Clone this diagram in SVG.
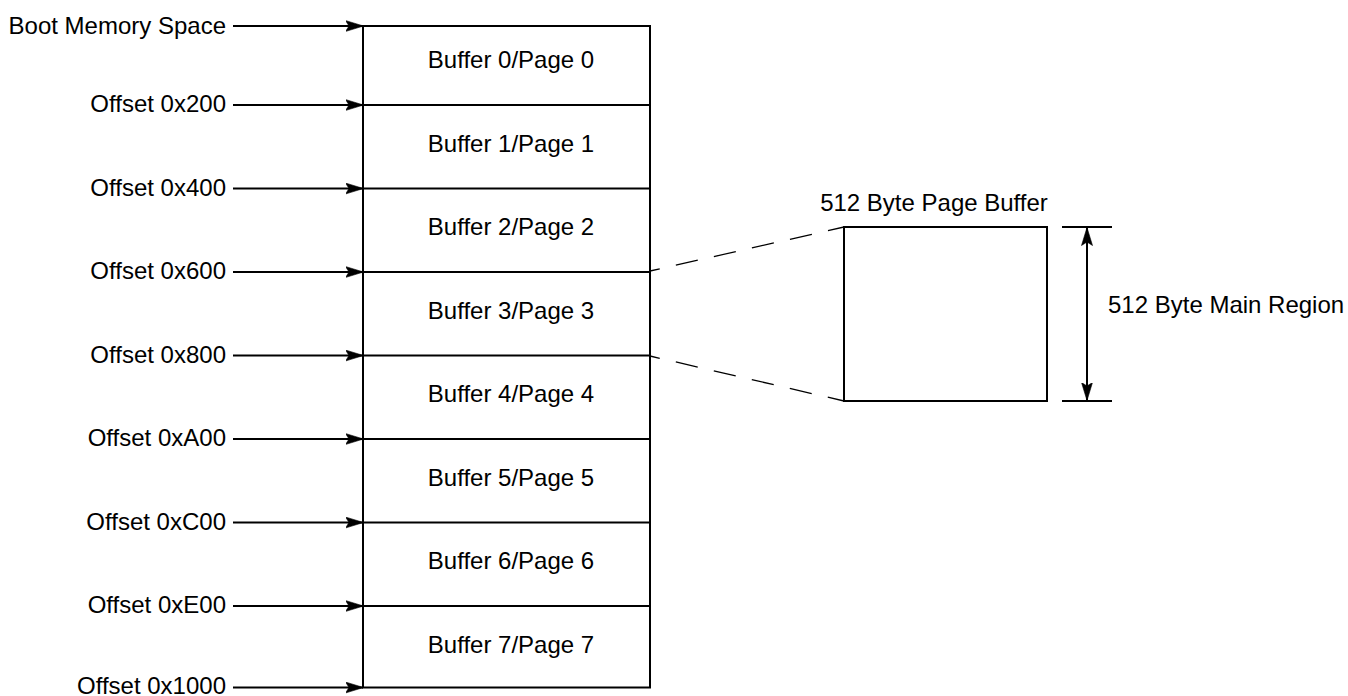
<svg xmlns="http://www.w3.org/2000/svg" width="1348" height="696" viewBox="0 0 1348 696">
  <style>
    text { font-family: "Liberation Sans", Arial, sans-serif; font-size: 24px; fill: #000; }
    .lbl { text-anchor: end; }
    .mid { text-anchor: middle; }
    .edge { stroke: #000; stroke-width: 2; fill: none; }
    .ptr { stroke: #000; stroke-width: 2; fill: none; marker-end: url(#arrow); }
    .dash { stroke: #000; stroke-width: 1.3; fill: none; stroke-dasharray: 22.5 16.5; stroke-dashoffset: 12.5; }
  </style>
  <defs>
    <marker id="arrow" markerUnits="userSpaceOnUse" viewBox="0 0 18 12" markerWidth="18" markerHeight="12" refX="17.5" refY="6" orient="auto">
      <path d="M0,0.5 L18,6 L0,11.5 L3.5,6 z" fill="#000" stroke="#000" stroke-width="0.6" stroke-linejoin="miter"/>
    </marker>
    <marker id="arrowStart" markerUnits="userSpaceOnUse" viewBox="0 0 18 12" markerWidth="18" markerHeight="12" refX="17.5" refY="6" orient="auto-start-reverse">
      <path d="M0,0.5 L18,6 L0,11.5 L3.5,6 z" fill="#000" stroke="#000" stroke-width="0.6" stroke-linejoin="miter"/>
    </marker>
  </defs>

  <!-- Boot memory, split into eight page buffers -->
  <g id="boot-memory">
    <rect class="edge" x="363" y="26" width="287" height="661.5"/>
    <line class="edge" x1="363" y1="105" x2="650" y2="105"/>
    <line class="edge" x1="363" y1="188.5" x2="650" y2="188.5"/>
    <line class="edge" x1="363" y1="272" x2="650" y2="272"/>
    <line class="edge" x1="363" y1="355.5" x2="650" y2="355.5"/>
    <line class="edge" x1="363" y1="439" x2="650" y2="439"/>
    <line class="edge" x1="363" y1="522.5" x2="650" y2="522.5"/>
    <line class="edge" x1="363" y1="606" x2="650" y2="606"/>
  </g>
  <g id="buffer-0"><text class="mid" x="511" y="68">Buffer 0/Page 0</text></g>
  <g id="buffer-1"><text class="mid" x="511" y="151.5">Buffer 1/Page 1</text></g>
  <g id="buffer-2"><text class="mid" x="511" y="235">Buffer 2/Page 2</text></g>
  <g id="buffer-3"><text class="mid" x="511" y="318.5">Buffer 3/Page 3</text></g>
  <g id="buffer-4"><text class="mid" x="511" y="402">Buffer 4/Page 4</text></g>
  <g id="buffer-5"><text class="mid" x="511" y="485.5">Buffer 5/Page 5</text></g>
  <g id="buffer-6"><text class="mid" x="511" y="569">Buffer 6/Page 6</text></g>
  <g id="buffer-7"><text class="mid" x="511" y="652.5">Buffer 7/Page 7</text></g>

  <!-- Offset labels -->
  <g id="offset-labels">
    <text class="lbl" x="226" y="33.5">Boot Memory Space</text>
    <text class="lbl" x="226" y="112">Offset 0x200</text>
    <text class="lbl" x="226" y="195.5">Offset 0x400</text>
    <text class="lbl" x="226" y="279">Offset 0x600</text>
    <text class="lbl" x="226" y="362.5">Offset 0x800</text>
    <text class="lbl" x="226" y="446">Offset 0xA00</text>
    <text class="lbl" x="226" y="529.5">Offset 0xC00</text>
    <text class="lbl" x="226" y="613">Offset 0xE00</text>
    <text class="lbl" x="226" y="693.5">Offset 0x1000</text>
  </g>

  <!-- Single page buffer detail -->
  <g id="page-buffer">
    <rect class="edge" x="844" y="227" width="203" height="174"/>
    <text class="mid" x="934" y="210.5">512 Byte Page Buffer</text>
  </g>
  <g id="main-region">
    <line class="edge" x1="1062" y1="227" x2="1112" y2="227"/>
    <line class="edge" x1="1062" y1="401" x2="1112" y2="401"/>
    <text x="1108" y="313">512 Byte Main Region</text>
  </g>

  <g id="connectors">
    <line class="ptr" x1="233" y1="26" x2="363" y2="26"/>
    <line class="ptr" x1="233" y1="105" x2="363" y2="105"/>
    <line class="ptr" x1="233" y1="188.5" x2="363" y2="188.5"/>
    <line class="ptr" x1="233" y1="272" x2="363" y2="272"/>
    <line class="ptr" x1="233" y1="355.5" x2="363" y2="355.5"/>
    <line class="ptr" x1="233" y1="439" x2="363" y2="439"/>
    <line class="ptr" x1="233" y1="522.5" x2="363" y2="522.5"/>
    <line class="ptr" x1="233" y1="606" x2="363" y2="606"/>
    <line class="ptr" x1="233" y1="687.5" x2="363" y2="687.5"/>
    <line class="dash" x1="650" y1="271" x2="844" y2="227"/>
    <line class="dash" x1="650" y1="356" x2="844" y2="401"/>
    <line stroke="#000" stroke-width="2" marker-start="url(#arrowStart)" marker-end="url(#arrow)" x1="1087" y1="228" x2="1087" y2="400"/>
  </g>
</svg>
